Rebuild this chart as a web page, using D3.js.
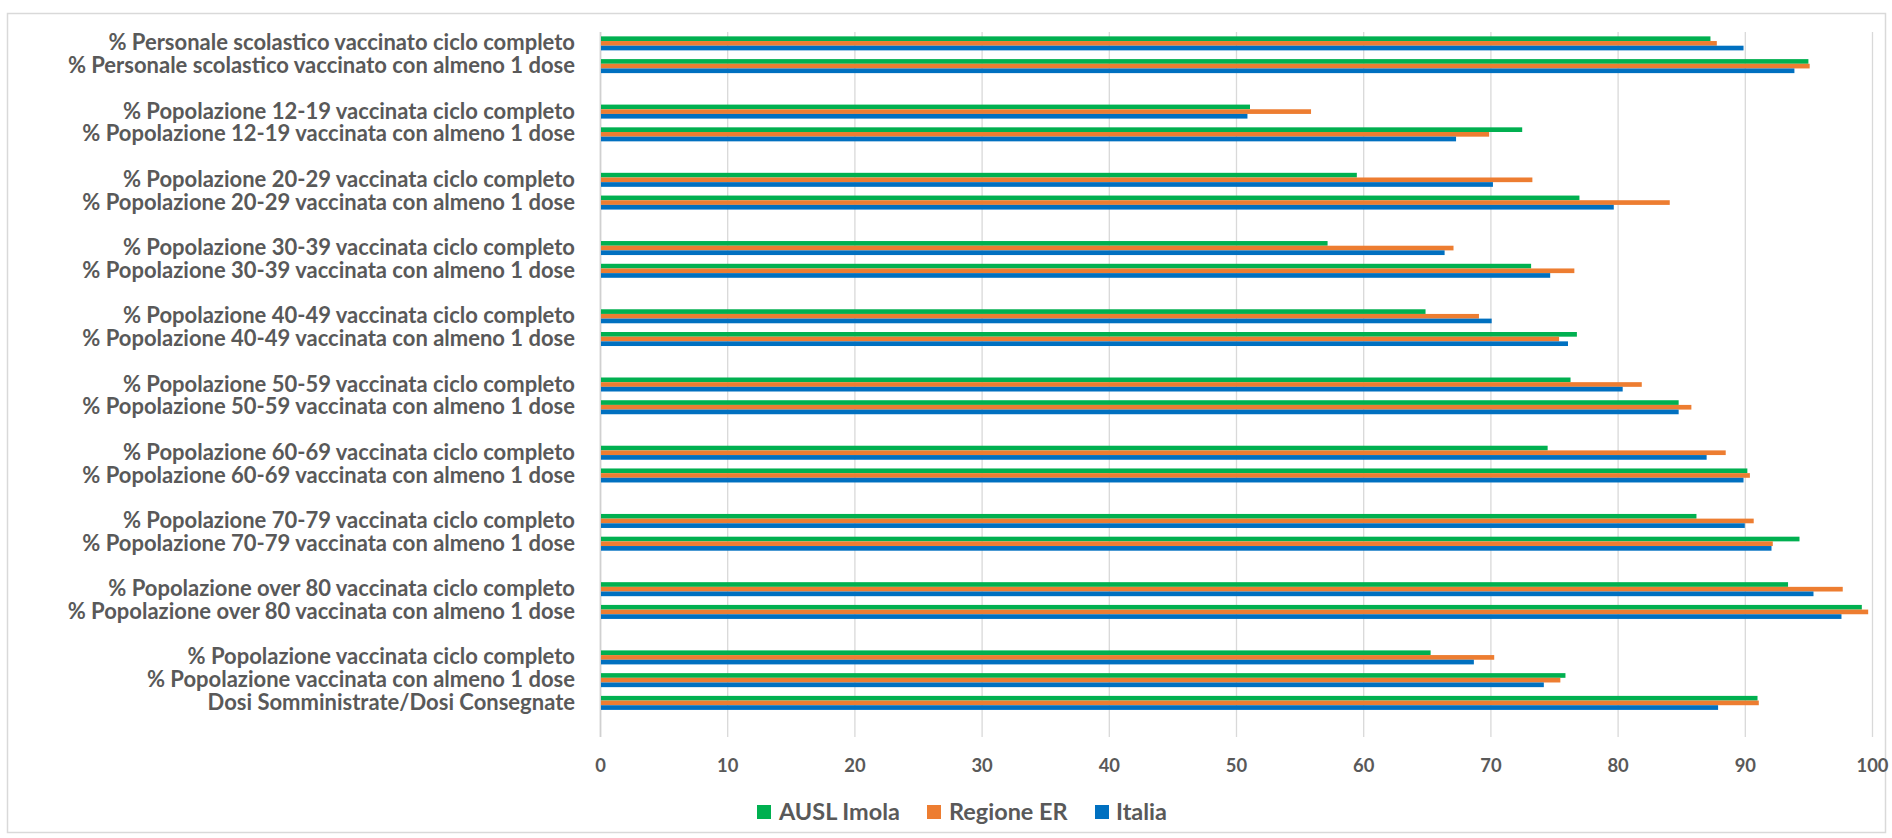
<!DOCTYPE html>
<html>
<head>
<meta charset="utf-8">
<script src="https://cdn.jsdelivr.net/npm/d3@7"></script>
<style>
  html, body { margin: 0; padding: 0; background: #ffffff; }
  svg { display: block; }
  text { font-family: Lato, "Noto Sans", sans-serif; font-weight: bold; fill: #595959; }
</style>
</head>
<body>
<svg id="chart" width="1892" height="838"></svg>
<script>
// Categories, top to bottom ("" = empty spacer category)
const categories = [
  "% Personale scolastico vaccinato ciclo completo",
  "% Personale scolastico vaccinato con almeno 1 dose",
  "",
  "% Popolazione 12-19 vaccinata ciclo completo",
  "% Popolazione 12-19 vaccinata con almeno 1 dose",
  "",
  "% Popolazione 20-29 vaccinata ciclo completo",
  "% Popolazione 20-29 vaccinata con almeno 1 dose",
  "",
  "% Popolazione 30-39 vaccinata ciclo completo",
  "% Popolazione 30-39 vaccinata con almeno 1 dose",
  "",
  "% Popolazione 40-49 vaccinata ciclo completo",
  "% Popolazione 40-49 vaccinata con almeno 1 dose",
  "",
  "% Popolazione 50-59 vaccinata ciclo completo",
  "% Popolazione 50-59 vaccinata con almeno 1 dose",
  "",
  "% Popolazione 60-69 vaccinata ciclo completo",
  "% Popolazione 60-69 vaccinata con almeno 1 dose",
  "",
  "% Popolazione 70-79 vaccinata ciclo completo",
  "% Popolazione 70-79 vaccinata con almeno 1 dose",
  "",
  "% Popolazione over 80 vaccinata ciclo completo",
  "% Popolazione over 80 vaccinata con almeno 1 dose",
  "",
  "% Popolazione vaccinata ciclo completo",
  "% Popolazione vaccinata con almeno 1 dose",
  "Dosi Somministrate/Dosi Consegnate",
  ""
];

const seriesNames = ["AUSL Imola", "Regione ER", "Italia"];

const auslImola = [87.3, 95.0, null, 51.1, 72.5, null, 59.5, 77.0, null, 57.2, 73.2, null,
  64.9, 76.8, null, 76.3, 84.8, null, 74.5, 90.2, null, 86.2, 94.3, null,
  93.4, 99.2, null, 65.3, 75.9, 91.0, null];
const regioneER = [87.8, 95.1, null, 55.9, 69.9, null, 73.3, 84.1, null, 67.1, 76.6, null,
  69.1, 75.4, null, 81.9, 85.8, null, 88.5, 90.4, null, 90.7, 92.2, null,
  97.7, 99.7, null, 70.3, 75.5, 91.1, null];
const italia = [89.9, 93.9, null, 50.9, 67.3, null, 70.2, 79.7, null, 66.4, 74.7, null,
  70.1, 76.1, null, 80.4, 84.8, null, 87.0, 89.9, null, 90.0, 92.1, null,
  95.4, 97.6, null, 68.7, 74.2, 87.9, null];

const xTicks = [0, 10, 20, 30, 40, 50, 60, 70, 80, 90, 100];
const colors = ["#00B050", "#ED7D31", "#0070C0"];

const seriesValues = [auslImola, regioneER, italia];

const svg = d3.select("#chart");

// outer chart border
svg.append("rect")
  .attr("x", 7.5).attr("y", 13.5)
  .attr("width", 1878).attr("height", 819)
  .attr("fill", "none").attr("stroke", "#d9d9d9").attr("stroke-width", 1.5);

const plot = { left: 600, right: 1872, top: 32, bottom: 737 };

const x = d3.scaleLinear().domain([0, 100]).range([plot.left, plot.right]);
const y = d3.scaleBand()
  .domain(d3.range(categories.length))
  .range([plot.top, plot.bottom])
  .paddingInner(0.384)
  .paddingOuter(0.192);
const ySub = d3.scaleBand().domain(d3.range(seriesNames.length)).range([0, y.bandwidth()]);

// gridlines
const grid = svg.append("g")
  .attr("transform", `translate(0,${plot.bottom})`)
  .call(d3.axisBottom(x).tickValues(xTicks).tickSize(-(plot.bottom - plot.top)).tickFormat(""));
grid.select(".domain").remove();
grid.selectAll(".tick line").attr("stroke", "#d9d9d9").attr("stroke-width", 1.3);
grid.selectAll(".tick").filter(d => d === 0).select("line").attr("stroke", "#d0d0d0").attr("stroke-width", 1.8);

// bars
const rows = categories.map((c, i) => ({ i, vals: seriesValues.map(s => s[i]) }));
const rowG = svg.append("g").selectAll("g")
  .data(rows.filter(r => r.vals.some(v => v !== null)))
  .join("g")
  .attr("transform", r => `translate(0,${y(r.i)})`);
rowG.selectAll("rect")
  .data(r => r.vals.map((v, k) => ({ v, k })).filter(d => d.v !== null))
  .join("rect")
  .attr("x", x(0) + 1)
  .attr("y", d => ySub(d.k))
  .attr("width", d => x(d.v) - x(0) - 1)
  .attr("height", ySub.bandwidth())
  .attr("fill", d => colors[d.k]);

// x axis labels
const xAxis = svg.append("g")
  .attr("transform", `translate(0,${plot.bottom})`)
  .call(d3.axisBottom(x).tickValues(xTicks).tickSize(0).tickPadding(22));
xAxis.select(".domain").remove();
const xLabels = xAxis.selectAll("text").style("font-size", "20px").attr("fill", "#595959");
{
  const t100 = xLabels.filter(d => d === 100).node();
  const w = t100 ? t100.getComputedTextLength() : 0;
  if (w > 0) xLabels.style("font-size", Math.max(18, Math.min(23, 20 * 32 / w)) + "px");
}

// y axis labels
const yAxis = svg.append("g")
  .attr("transform", `translate(${plot.left},0)`)
  .call(d3.axisLeft(y).tickFormat(i => categories[i]).tickSize(0).tickPadding(25));
yAxis.select(".domain").remove();
const yLabels = yAxis.selectAll("text").style("font-size", "20px").attr("fill", "#595959");
// fit label widths to the reference (longest label ~556px)
let maxW = 0;
yLabels.each(function() { maxW = Math.max(maxW, this.getComputedTextLength()); });
if (maxW > 0) {
  const fs = Math.max(17, Math.min(22, 20 * 556 / maxW));
  yLabels.style("font-size", fs + "px");
}

// legend
const legendItems = [
  { name: seriesNames[0], sx: 757, tx: 779 },
  { name: seriesNames[1], sx: 927, tx: 949 },
  { name: seriesNames[2], sx: 1095, tx: 1116 }
];
const lg = svg.append("g").selectAll("g").data(legendItems).join("g");
lg.append("rect")
  .attr("x", d => d.sx).attr("y", 805).attr("width", 14).attr("height", 14)
  .attr("fill", (d, i) => colors[i]);
const lgText = lg.append("text")
  .attr("x", d => d.tx).attr("y", 812).attr("dy", "0.35em")
  .style("font-size", "20px")
  .text(d => d.name);
{
  const n0 = lgText.node();
  const w = n0 ? n0.getComputedTextLength() : 0;
  if (w > 0) lgText.style("font-size", Math.max(18, Math.min(24, 20 * 121 / w)) + "px");
}
</script>
</body>
</html>
